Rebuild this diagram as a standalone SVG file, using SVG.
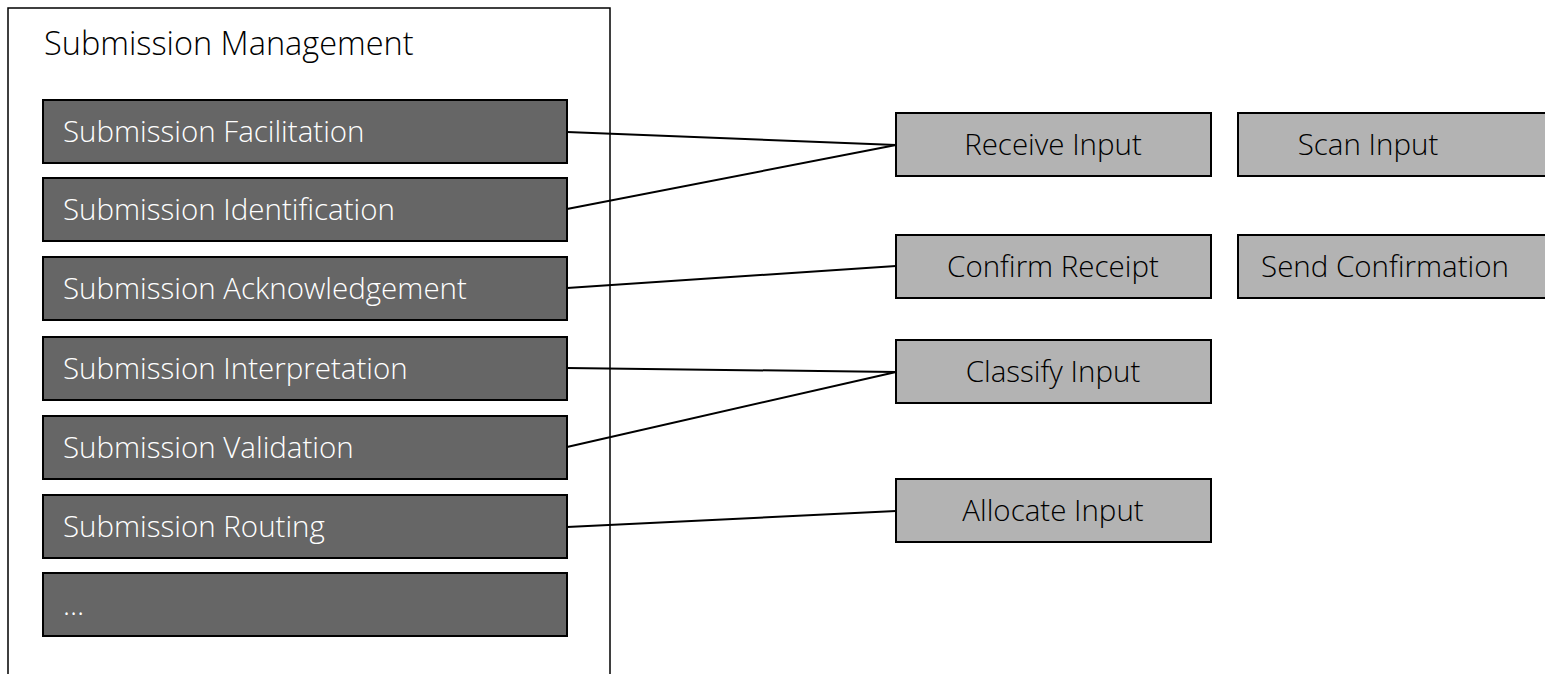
<svg xmlns="http://www.w3.org/2000/svg" width="1545" height="674" viewBox="0 0 1545 674">
<style>
.bg{fill:#ffffff}
.frame{fill:#ffffff;stroke:#000;stroke-width:1.5}
.dark{fill:#666666;stroke:#000;stroke-width:2}
.light{fill:#b3b3b3;stroke:#000;stroke-width:2}
.t{font-family:"Open Sans","Lato","Liberation Sans",sans-serif;font-weight:300}
.tw{fill:#ffffff;font-size:29.5px}
.tb{fill:#000000;font-size:29.5px;text-anchor:middle}
.title{fill:#000;font-size:32.5px}
.conn line{stroke:#000;stroke-width:2}
</style>
<rect class="bg" x="0" y="0" width="1545" height="674"/>
<g id="submission-management">
<rect class="frame" x="8" y="8" width="602" height="700"/>
<text class="t title" x="44" y="55">Submission Management</text>
</g>
<g id="n-facilitation"><rect class="dark" x="43" y="100" width="524" height="63"/><text class="t tw" x="63" y="142">Submission Facilitation</text></g>
<g id="n-identification"><rect class="dark" x="43" y="178" width="524" height="63"/><text class="t tw" x="63" y="220">Submission Identification</text></g>
<g id="n-acknowledgement"><rect class="dark" x="43" y="257" width="524" height="63"/><text class="t tw" x="63" y="299">Submission Acknowledgement</text></g>
<g id="n-interpretation"><rect class="dark" x="43" y="337" width="524" height="63"/><text class="t tw" x="63" y="379">Submission Interpretation</text></g>
<g id="n-validation"><rect class="dark" x="43" y="416" width="524" height="63"/><text class="t tw" x="63" y="458">Submission Validation</text></g>
<g id="n-routing"><rect class="dark" x="43" y="495" width="524" height="63"/><text class="t tw" x="63" y="537">Submission Routing</text></g>
<g id="n-more"><rect class="dark" x="43" y="573" width="524" height="63"/><text class="t tw" x="63" y="615">…</text></g>
<g class="conn" id="connectors">
<line x1="567" y1="132" x2="896" y2="145"/>
<line x1="567" y1="209" x2="896" y2="145"/>
<line x1="567" y1="288" x2="896" y2="266"/>
<line x1="567" y1="368" x2="896" y2="372"/>
<line x1="567" y1="447" x2="896" y2="372"/>
<line x1="567" y1="527" x2="896" y2="511"/>
</g>
<g id="n-receive"><rect class="light" x="896" y="113" width="315" height="63"/><text class="t tb" x="1053" y="155">Receive Input</text></g>
<g id="n-scan"><rect class="light" x="1238" y="113" width="315" height="63"/><text class="t tb" x="1368" y="155">Scan Input</text></g>
<g id="n-confirm"><rect class="light" x="896" y="235" width="315" height="63"/><text class="t tb" x="1053" y="277">Confirm Receipt</text></g>
<g id="n-send"><rect class="light" x="1238" y="235" width="315" height="63"/><text class="t tb" x="1385" y="277">Send Confirmation</text></g>
<g id="n-classify"><rect class="light" x="896" y="340" width="315" height="63"/><text class="t tb" x="1053" y="382">Classify Input</text></g>
<g id="n-allocate"><rect class="light" x="896" y="479" width="315" height="63"/><text class="t tb" x="1053" y="521">Allocate Input</text></g>
</svg>
